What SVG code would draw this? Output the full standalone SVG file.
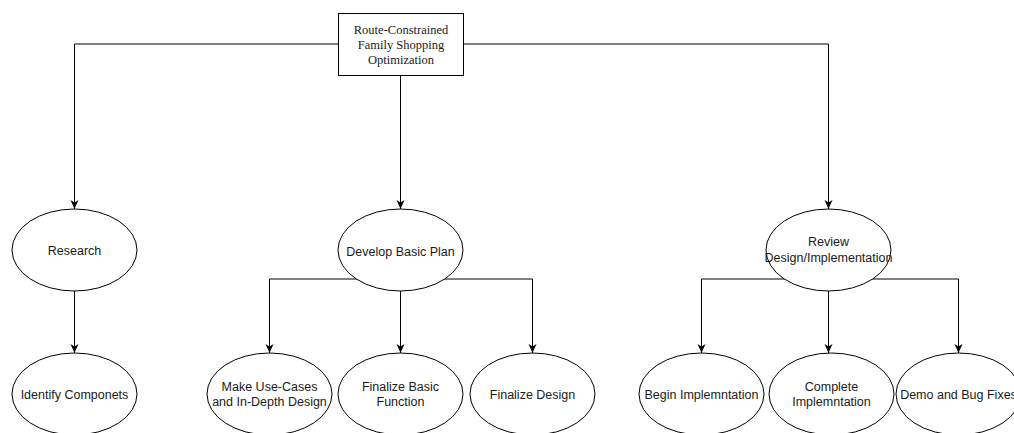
<svg xmlns="http://www.w3.org/2000/svg" width="1014" height="433" viewBox="0 0 1014 433">
<defs>
<style>
.e{fill:#fff;stroke:#000;stroke-width:1}
.c{fill:none;stroke:#000;stroke-width:1}
.t{font-family:"Liberation Sans",Arial,Helvetica,sans-serif;font-size:12.5px;fill:#1a1a1a;text-anchor:middle}
.s{font-family:"Liberation Serif","Times New Roman",serif;font-size:12.5px;fill:#1a1a1a;text-anchor:middle}
</style>
<marker id="ar" markerUnits="userSpaceOnUse" markerWidth="10" markerHeight="10" viewBox="0 0 10 10" refX="9" refY="5" orient="auto">
<path d="M0,1 L9,5 L0,9 L2.5,5 Z" fill="#000"/>
</marker>
</defs>
<rect width="1014" height="433" fill="#fff"/>
<g id="connectors">
<path class="c" d="M338,44 H74.5 V209" marker-end="url(#ar)"/>
<path class="c" d="M463,44 H828.5 V209" marker-end="url(#ar)"/>
<path class="c" d="M400.5,75 V209" marker-end="url(#ar)"/>
<path class="c" d="M74.5,291 V353" marker-end="url(#ar)"/>
<path class="c" d="M400.5,279 H269.5 V353" marker-end="url(#ar)"/>
<path class="c" d="M400.5,291 V353" marker-end="url(#ar)"/>
<path class="c" d="M400.5,279 H532.5 V353" marker-end="url(#ar)"/>
<path class="c" d="M828.5,279 H701.5 V353" marker-end="url(#ar)"/>
<path class="c" d="M828.5,291 V353" marker-end="url(#ar)"/>
<path class="c" d="M828.5,279 H958.5 V353" marker-end="url(#ar)"/>
</g>
<g id="root">
<rect x="338.5" y="13.5" width="125" height="62" fill="#fff" stroke="#000"/>
<text class="s" x="401" y="34">Route-Constrained</text>
<text class="s" x="401" y="49">Family Shopping</text>
<text class="s" x="401" y="64">Optimization</text>
</g>
<g id="research">
<ellipse class="e" cx="74.5" cy="250" rx="62.5" ry="41"/>
<text class="t" x="74.5" y="255">Research</text>
</g>
<g id="develop">
<ellipse class="e" cx="400.5" cy="250" rx="62.5" ry="41"/>
<text class="t" x="400.5" y="256">Develop Basic Plan</text>
</g>
<g id="review">
<ellipse class="e" cx="828.5" cy="250" rx="62.5" ry="41"/>
<text class="t" x="828.5" y="246">Review</text>
<text class="t" x="828.5" y="262">Design/Implementation</text>
</g>
<g id="identify">
<ellipse class="e" cx="74.5" cy="394" rx="62.5" ry="41"/>
<text class="t" x="74.5" y="399">Identify Componets</text>
</g>
<g id="usecases">
<ellipse class="e" cx="269.5" cy="394" rx="62.5" ry="41"/>
<text class="t" x="269.5" y="391">Make Use-Cases</text>
<text class="t" x="269.5" y="406">and In-Depth Design</text>
</g>
<g id="basicfunction">
<ellipse class="e" cx="400.5" cy="394" rx="62.5" ry="41"/>
<text class="t" x="400.5" y="391">Finalize Basic</text>
<text class="t" x="400.5" y="406">Function</text>
</g>
<g id="finaldesign">
<ellipse class="e" cx="532.5" cy="394" rx="62.5" ry="41"/>
<text class="t" x="532.5" y="399">Finalize Design</text>
</g>
<g id="begin">
<ellipse class="e" cx="701.5" cy="394" rx="62.5" ry="41"/>
<text class="t" x="701.5" y="399">Begin Implemntation</text>
</g>
<g id="complete">
<ellipse class="e" cx="831.5" cy="394" rx="62.5" ry="41"/>
<text class="t" x="831.5" y="391">Complete</text>
<text class="t" x="831.5" y="406">Implemntation</text>
</g>
<g id="demo">
<ellipse class="e" cx="958.5" cy="394" rx="62.5" ry="41"/>
<text class="t" x="958.5" y="399">Demo and Bug Fixes</text>
</g>
</svg>
